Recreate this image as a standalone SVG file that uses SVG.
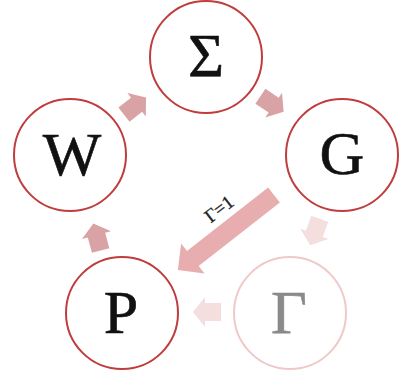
<svg xmlns="http://www.w3.org/2000/svg" width="402" height="377" viewBox="0 0 402 377">
<style>
.node{fill:#fff;stroke:#c13c3c;stroke-width:2}
.faint{fill:#fff;stroke:#efc9c9;stroke-width:2}
.lbl{font-family:"Liberation Serif","Times New Roman",serif;font-size:62px;text-anchor:middle;fill:#111;stroke:#111;stroke-width:0.6}
.arr{fill:#d9a3a6}
.arrl{fill:#f4dede}
.big{fill:#e8adaf}
.small{font-family:"Liberation Serif","Times New Roman",serif;font-size:19px;text-anchor:middle;fill:#222;stroke:#222;stroke-width:0.3}
</style>
<defs>
<path id="blk" d="M-14,-9 H2 V-15 L14,0 L2,15 V9 H-14 Z"/>
</defs>
<g id="connectors">
<use href="#blk" class="arr" transform="translate(135,106) rotate(-38)"/>
<use href="#blk" class="arr" transform="translate(272,104) rotate(34)"/>
<use href="#blk" class="arrl" transform="translate(315,232) rotate(110)"/>
<use href="#blk" class="arr" transform="translate(97,237) rotate(-105)"/>
<use href="#blk" class="arrl" transform="translate(207,312) rotate(180)"/>
<path class="big" d="M0,-9.5 H103 V-19 L122,0 L103,19 V9.5 H0 Z" transform="translate(274,195) rotate(142)"/>
<text class="small" transform="translate(223,214) rotate(-38)">Γ=1</text>
</g>
<g id="node-sigma"><circle class="node" cx="206" cy="57" r="56"/><text class="lbl" x="206" y="76">Σ</text></g>
<g id="node-w"><circle class="node" cx="70" cy="155" r="56"/><text class="lbl" x="72" y="175">W</text></g>
<g id="node-g"><circle class="node" cx="342" cy="155" r="56"/><text class="lbl" x="342" y="174">G</text></g>
<g id="node-p"><circle class="node" cx="122" cy="313" r="56"/><text class="lbl" x="121" y="333">P</text></g>
<g id="node-gamma"><circle class="faint" cx="290" cy="313" r="56"/><text class="lbl" x="289" y="333" style="fill:#8a8a8a;stroke:#8a8a8a">Γ</text></g>
</svg>
